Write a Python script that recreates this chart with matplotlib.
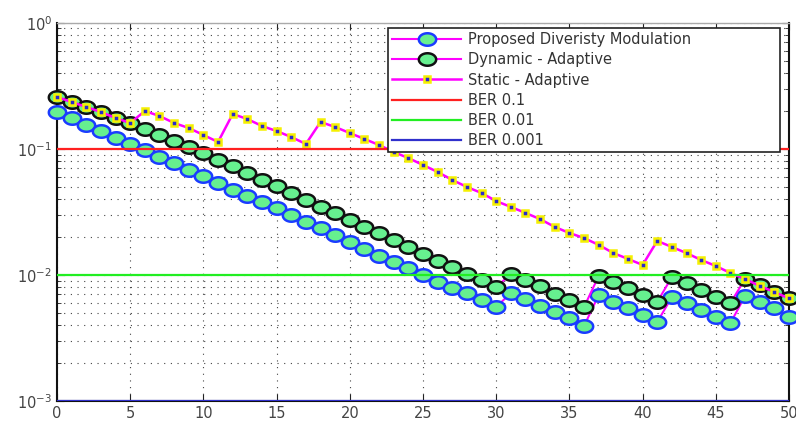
import numpy as np
import matplotlib
matplotlib.use("Agg")
import matplotlib.pyplot as plt
from matplotlib.path import Path
from matplotlib.ticker import LogLocator, FixedLocator, NullFormatter

snr = list(range(0, 51))

proposed = [0.1957, 0.1755, 0.1544, 0.1384, 0.1218, 0.1092, 0.0978, 0.0861, 0.0772, 0.0679,
            0.0608, 0.0535, 0.0471, 0.0422, 0.0379, 0.0339, 0.0299, 0.0263, 0.0235, 0.0207,
            0.0182, 0.0160, 0.0141, 0.01266, 0.01134, 0.00998, 0.00879, 0.00787, 0.00719, 0.00632,
            0.00556, 0.00719, 0.00644, 0.00567, 0.00508, 0.00455, 0.00393, 0.00693, 0.00610, 0.00546,
            0.00481, 0.00423, 0.00668, 0.00599, 0.00527, 0.00464, 0.00415, 0.00680, 0.00610, 0.00546,
            0.00464]

dynamic = [0.2575, 0.2350, 0.2145, 0.1957, 0.1755, 0.1602, 0.1435, 0.1287, 0.1153, 0.1033,
           0.0926, 0.0815, 0.0730, 0.0643, 0.0566, 0.0507, 0.0446, 0.0393, 0.0346, 0.0310,
           0.0272, 0.0240, 0.0215, 0.0189, 0.01665, 0.01465, 0.01289, 0.01155, 0.01016, 0.00911,
           0.00802, 0.01016, 0.00911, 0.00817, 0.00706, 0.00632, 0.00556, 0.00980, 0.00879, 0.00787,
           0.00693, 0.00610, 0.00962, 0.00863, 0.00759, 0.00668, 0.00599, 0.00928, 0.00832, 0.00732,
           0.00650]

static = [0.2575, 0.2350, 0.2145, 0.1957, 0.1755, 0.1602, 0.1994, 0.1820, 0.1602, 0.1462,
          0.1287, 0.1132, 0.1888, 0.1723, 0.1516, 0.1384, 0.1240, 0.1092, 0.1632, 0.1489,
          0.1334, 0.1196, 0.1072, 0.0943, 0.0845, 0.0744, 0.0655, 0.0566, 0.0498, 0.0446,
          0.0385, 0.0346, 0.0310, 0.0277, 0.0240, 0.0215, 0.0196, 0.0173, 0.0149, 0.0134,
          0.01199, 0.0186, 0.01665, 0.0149, 0.01313, 0.01177, 0.01035, 0.00928, 0.00817, 0.00732,
          0.00650]

ber_levels = [0.1, 0.01, 0.001]
ber_labels = ["BER 0.1", "BER 0.01", "BER 0.001"]
ber_colors = ["#ff2020", "#22ee22", "#3030cc"]

series_labels = ["Proposed Diveristy Modulation", "Dynamic - Adaptive", "Static - Adaptive"]
xticks = list(range(0, 51, 5))

plt.rcParams['font.family'] = ['DejaVu Sans']

fig = plt.figure(figsize=(7.96, 4.24), dpi=100)
ax = fig.add_axes([57/796, 1 - 401/424, (789 - 57)/796, (401 - 22.7)/424])

t = np.linspace(0, 2*np.pi, 40)
ell = Path(np.column_stack([np.cos(t), 0.72*np.sin(t)]), closed=True)

green_face = "#66f08f"
mag = "#ff00ff"

ax.plot(snr, proposed, color=mag, lw=1.5, marker=ell, ms=12.5, mfc=green_face,
        mec="#1a3cff", mew=1.8, label=series_labels[0], zorder=3, clip_on=False)
ax.plot(snr, dynamic, color=mag, lw=1.5, marker=ell, ms=12.5, mfc=green_face,
        mec="#111111", mew=1.8, label=series_labels[1], zorder=4, clip_on=False)
ax.plot(snr, static, color=mag, lw=1.8, marker='s', ms=4.5, mfc="#2a2acc",
        mec="#f5f000", mew=1.8, label=series_labels[2], zorder=5, clip_on=False)

for lev, lab, col in zip(ber_levels, ber_labels, ber_colors):
    ax.axhline(lev, color=col, lw=1.6, label=lab, zorder=6)

ax.set_yscale('log')
ax.set_xlim(0, 50)
ax.set_ylim(1e-3, 1)
ax.xaxis.set_major_locator(FixedLocator(xticks))
ax.yaxis.set_major_locator(LogLocator(base=10, numticks=10))
ax.yaxis.set_minor_locator(LogLocator(base=10, subs=np.arange(2, 10), numticks=20))
ax.yaxis.set_minor_formatter(NullFormatter())

dot = (0, (1, 5))
ax.grid(True, which='major', axis='both', color='#444444', lw=0.8, ls=dot)
ax.grid(True, which='minor', axis='y', color='#444444', lw=0.8, ls=dot)

ax.tick_params(which='both', direction='in', top=True, right=True, colors='#222222',
               labelcolor='#444444', labelsize=10.5)
ax.tick_params(which='major', length=5)
ax.tick_params(which='minor', length=3)

for s in ax.spines.values():
    s.set_color('#111111')
    s.set_linewidth(1.5)
ax.spines['top'].set_color('#aaaaaa')
ax.spines['top'].set_linewidth(1.0)

leg = ax.legend(loc='upper left', bbox_to_anchor=(0.452, 0.986, 0.536, 0.0), mode='expand',
                fontsize=10.5, handlelength=4.7, handletextpad=0.5, borderaxespad=0,
                labelspacing=0.35, borderpad=0.3, fancybox=False, framealpha=1,
                edgecolor='#222222', labelcolor='#333333')
leg.get_frame().set_linewidth(1.2)
leg.set_zorder(10)

fig.savefig("out.png", dpi=100)
